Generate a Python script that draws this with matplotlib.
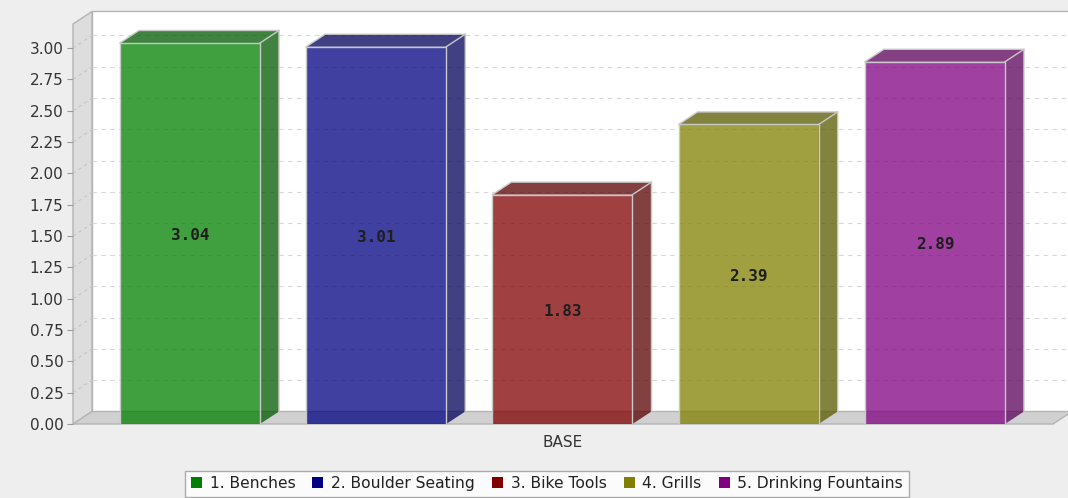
import numpy as np
import matplotlib
matplotlib.use('Agg')
import matplotlib.pyplot as plt
from matplotlib.patches import Patch, Polygon, Rectangle
from matplotlib.colors import to_rgb

plt.rcParams['font.family'] = 'DejaVu Sans'

# region Data
series = ['1. Benches', '2. Boulder Seating', '3. Bike Tools', '4. Grills', '5. Drinking Fountains']
values = [3.04, 3.01, 1.83, 2.39, 2.89]
colors = ['#008000', '#000080', '#800000', '#808000', '#800080']
category = 'BASE'
yticks = np.arange(0, 3.01, 0.25)
# endregion

# region Layout
W, H = 1068, 498
fig = plt.figure(figsize=(W / 100, H / 100), dpi=100, facecolor='#eeeeee')
ax = fig.add_axes([73 / W, (H - 424) / H, (1053 - 73) / W, 400 / H])
ax.set_facecolor('none')
for s in ax.spines.values():
    s.set_visible(False)

xmin, xmax = -0.628, 4.634
ymax = 400 / (376 / 3.0)
ax.set_xlim(xmin, xmax)
ax.set_ylim(0, ymax)

# 3d depth in data units, from pixel offsets
depth_px = (19, 12.5)
ddx = depth_px[0] * (xmax - xmin) / (1053 - 73)
ddy = depth_px[1] * ymax / 400
edge = '#b4b4b4'
# endregion

# back wall, left wall, floor
ax.add_patch(Rectangle((xmin + ddx, ddy), xmax - xmin + 1, ymax, facecolor='white',
                       edgecolor=edge, lw=1, clip_on=False, zorder=0))
ax.add_patch(Polygon([(xmin, 0), (xmin, ymax), (xmin + ddx, ymax + ddy), (xmin + ddx, ddy)],
                     closed=True, facecolor='#dddddd', edgecolor=edge, lw=1, clip_on=False, zorder=1))
ax.add_patch(Polygon([(xmin, 0), (xmin + ddx, ddy), (xmax + ddx, ddy), (xmax, 0)],
                     closed=True, facecolor='#d0d0d0', edgecolor=edge, lw=1, clip_on=False, zorder=1))

# gridlines on back wall and left wall
for t in yticks[1:]:
    ax.plot([xmin + ddx, xmax + ddx + 1], [t + ddy, t + ddy], ls=(0, (4, 4)), color='#d8d8d8',
            lw=0.8, clip_on=False, zorder=2)
    ax.plot([xmin, xmin + ddx], [t, t + ddy], ls=(0, (3, 3)), color='#c4c4c4',
            lw=0.8, clip_on=False, zorder=2)

# bars
width = 0.752
alpha = 0.75
for i, (v, c) in enumerate(zip(values, colors)):
    x0, x1 = i - width / 2, i + width / 2
    dark = tuple(ch * 0.7 for ch in to_rgb(c))
    ax.bar(i, v, width=width, color=c, alpha=alpha, edgecolor='none', zorder=3)
    ax.add_patch(Polygon([(x1, 0), (x1, v), (x1 + ddx, v + ddy), (x1 + ddx, ddy)], closed=True,
                         facecolor=dark, alpha=alpha, edgecolor='none', clip_on=False, zorder=3))
    ax.add_patch(Polygon([(x0, v), (x0 + ddx, v + ddy), (x1 + ddx, v + ddy), (x1, v)], closed=True,
                         facecolor=dark, alpha=alpha, edgecolor='none', clip_on=False, zorder=3))
    # outlines
    ax.plot([x0, x0, x1, x1], [0, v, v, 0], color='#c8c8c8', lw=1, zorder=4, clip_on=False)
    ax.plot([x0, x0 + ddx, x1 + ddx, x1 + ddx], [v, v + ddy, v + ddy, ddy], color='#c8c8c8',
            lw=1, zorder=4, clip_on=False)
    ax.plot([x1, x1 + ddx], [v, v + ddy], color='#c8c8c8', lw=1, zorder=4, clip_on=False)
    ax.text(i, v / 2 - 0.015, '%.2f' % v, ha='center', va='center', family='DejaVu Sans Mono',
            weight='bold', fontsize=11.5, color='#1e1e1e', zorder=5)

# axes ticks
ax.set_yticks(yticks)
ax.set_yticklabels(['%.2f' % t for t in yticks])
ax.tick_params(axis='y', length=4, color='#999999', labelsize=11, labelcolor='#333333', pad=3)
ax.set_xticks([2])
ax.set_xticklabels([category])
ax.tick_params(axis='x', length=0, labelsize=11, labelcolor='#333333', pad=8)

# legend
handles = [Patch(facecolor=c, edgecolor='none', label=s) for s, c in zip(series, colors)]
leg = fig.legend(handles=handles, loc='lower center', bbox_to_anchor=(547 / W, 1.5 / H), ncol=5,
                 fontsize=11.2, frameon=True, fancybox=False, edgecolor='#999999',
                 handlelength=0.7, handleheight=0.7, handletextpad=0.5, columnspacing=1.1,
                 borderpad=0.35, borderaxespad=0)
leg.get_frame().set_linewidth(1)
for t in leg.get_texts():
    t.set_color('#222222')

fig.savefig('out.png', dpi=100, facecolor=fig.get_facecolor())
